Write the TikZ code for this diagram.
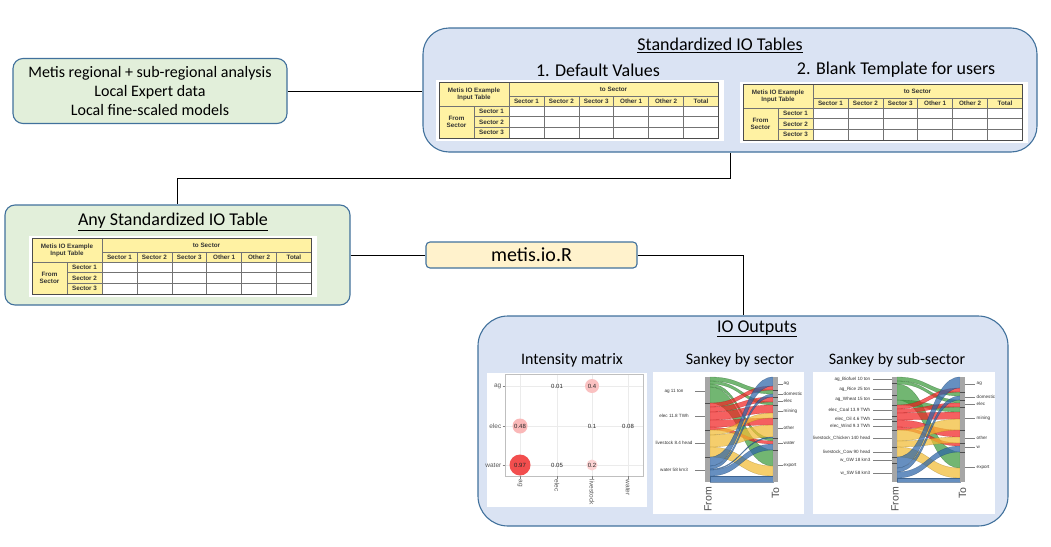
\documentclass[tikz,border=0pt]{standalone}
\usepackage{fontspec}
\setmainfont{Carlito}
\newfontfamily\plotfont{Liberation Sans}
\definecolor{boxgreen}{HTML}{E2EFDA}
\definecolor{boxblue}{HTML}{DAE3F3}
\definecolor{boxline}{HTML}{41719C}
\definecolor{boxyellow}{HTML}{FFF2CC}
\definecolor{tabyellow}{HTML}{FFF2A3}
\definecolor{sgreen}{HTML}{3C9A3C}
\definecolor{sred}{HTML}{F22424}
\definecolor{syellow}{HTML}{F2BC34}
\definecolor{sblue}{HTML}{2C65A8}
\definecolor{dotred}{HTML}{F24E4E}

% one input table, top left corner at #1,#2, names prefixed with #3
\newcommand\iotable[3]{%
\begin{scope}[shift={(#1,#2)}]
	\fill[white] (-3,-2) rectangle (285,59);
	\fill[tabyellow] (0,0) rectangle (279,24);
	\fill[tabyellow] (0,24) rectangle (70,56);
	\draw[tabrule] (70,14) -- (279,14) (0,24) -- (279,24)
		(35,34.7) -- (279,34.7) (35,45.3) -- (279,45.3) (35,24) -- (35,56);
	\foreach \c in {70,104.9,139.8,174.6,209.5,244.4}
		\draw[tabrule] (\c,14) -- (\c,56);
	\draw[tabrule] (70,0) -- (70,14);
	\draw[tabframe] (0,0) rectangle (279,56);
	\node[tabtext, align=center] (#3-corner) at (35,12) {Metis IO Example\\Input Table};
	\node[tabtext] (#3-to) at (174.5,7) {to Sector};
	\node[tabtext, align=center] (#3-from) at (17.5,40) {From\\Sector};
	\foreach \n [count=\i] in {Sector 1,Sector 2,Sector 3,Other 1,Other 2,Total}
		\node[tabtext] (#3-col\i) at ({70+34.9*(\i-0.5)},19) {\n};
	\foreach \i in {1,2,3}
		\node[tabtext] (#3-row\i) at (52.5,{24+10.67*(\i-0.5)}) {Sector \i};
\end{scope}}

% one sankey band between \xL and \xR
\newcommand\sflow[5]{%
	\filldraw[fill=#1, draw=#1!60!black, fill opacity=.72, draw opacity=.5, line width=.3pt]
		(\xL,#2) .. controls ({(\xL+\xR)/2},#2) and ({(\xL+\xR)/2},#4) .. (\xR,#4)
		-- (\xR,#5) .. controls ({(\xL+\xR)/2},#5) and ({(\xL+\xR)/2},#3) .. (\xL,#3) -- cycle;}

\begin{document}
\begin{tikzpicture}[x=1pt,y=-1pt,
				greenbox/.style={draw=boxline, line width=1.1pt, fill=boxgreen, rounded corners=10pt},
				bluebox/.style={draw=boxline, line width=1.1pt, fill=boxblue, rounded corners=26pt},
				yellowbox/.style={draw=boxline, line width=1.1pt, fill=boxyellow, rounded corners=4pt,
					font=\fontsize{20}{22}\selectfont},
				boxtitle/.style={font=\fontsize{18}{20}\selectfont, inner sep=0pt},
				plottitle/.style={font=\fontsize{16}{18}\selectfont, inner sep=0pt},
				link/.style={draw=black, line width=1pt},
				tabrule/.style={draw=black!55, line width=.5pt},
				tabframe/.style={draw=black!70, line width=.8pt},
				tabtext/.style={font=\plotfont\bfseries\fontsize{6.3}{6.8}\selectfont, text=black!80, inner sep=0pt},
				plotlab/.style={font=\plotfont\fontsize{6.5}{7}\selectfont, text=black!65, inner sep=.5pt},
				sklab/.style={font=\plotfont\fontsize{4.6}{5}\selectfont, text=black!80, inner sep=.5pt},
				skaxis/.style={font=\plotfont\fontsize{10.5}{11}\selectfont, text=black!70, inner sep=0pt, rotate=90, anchor=east},
				skbar/.style={fill=black!35},
				sktick/.style={draw=black!50, line width=.4pt},
				gridline/.style={draw=black!8, line width=.5pt}]
\useasboundingbox (0,0) rectangle (1051,546);

% boxes
\node[greenbox, minimum width=274pt, minimum height=65pt, align=center,
	font=\fontsize{16}{19}\selectfont] (local) at (150,91)
	{Metis regional + sub-regional analysis\\Local Expert data\\Local fine-scaled models};
\node[bluebox, minimum width=614pt, minimum height=124pt] (stdbox) at (730,90) {};
\node[greenbox, minimum width=345pt, minimum height=100pt] (anybox) at (177.5,255) {};
\node[yellowbox, minimum width=211pt, minimum height=26pt] (metis) at (531.5,255) {metis.io.R};
\node[bluebox, minimum width=530pt, minimum height=210pt, rounded corners=30pt] (outbox) at (743,421) {};

% connectors
\draw[link] (local.east) -- (local.east -| stdbox.west);
\draw[link] (stdbox.south) -- ++(0,26) -| (anybox.north);
\draw[link] (anybox.east) -- (metis.west);
\draw[link] (metis.east) -| (outbox.north);

% standardized tables
\node[boxtitle] (stdtitle) at (720,45) {\underline{Standardized IO Tables}};
\node[boxtitle] (defval) at (598,70) {1. Default Values};
\node[boxtitle] (blank) at (896,70) {2. Blank Template for users};
\iotable{439}{82}{dv}
\iotable{743}{84}{bt}
\node[boxtitle] (anytitle) at (173,222) {\underline{Any Standardized IO Table}};
\iotable{32}{238}{any}

% outputs
\node[boxtitle] (outtitle) at (757,329) {\underline{IO Outputs}};
\node[plottitle] (imtitle) at (572,360) {Intensity matrix};
\node[plottitle] (sstitle) at (740,360) {Sankey by sector};
\node[plottitle] (subtitle) at (897,360) {Sankey by sub-sector};

% intensity matrix
\fill[white] (487,373) rectangle (647,507);
\foreach \x in {520,557,592,628} \draw[gridline] (\x,374) -- (\x,476);
\foreach \y in {386,426,465} \draw[gridline] (505,\y) -- (643,\y);
\draw[black!25, line width=.6pt] (505,374) rectangle (643,476);
\fill[dotred!40] (520,426) circle (7.5pt);
\fill[dotred] (520,465) circle (10.5pt);
\fill[dotred!35] (592,386) circle (7pt);
\fill[dotred!25] (592,465) circle (5.5pt);
\foreach \t/\x/\y [count=\i] in {0.48/520/426,0.97/520/465,0.4/592/386,0.2/592/465,
		0.01/557/386,0.1/592/426,0.08/628/426,0.05/557/465}
	\node[plotlab, text=black!85, font=\plotfont\fontsize{6}{7}\selectfont] (im-v\i) at (\x,\y) {\t};
\foreach \t/\y [count=\i] in {ag/386,elec/426,water/465} {
	\node[plotlab, anchor=east] (im-r\i) at (502,\y) {\t};
	\draw[sktick] (502.5,\y) -- (505,\y);
}
\foreach \t/\x [count=\i] in {ag/520,elec/557,livestock/592,water/628} {
	\node[plotlab, rotate=-90, anchor=west] (im-c\i) at (\x,479) {\t};
	\draw[sktick] (\x,476) -- (\x,478.5);
}

% sankey by sector
\fill[white] (653,372) rectangle (804,514);
\def\xL{710}\def\xR{773}
\sflow{sgreen}{377}{381}{390}{394}
\sflow{sgreen}{381}{384}{402}{405}
\sflow{sgreen}{384}{387}{438}{441}
\sflow{sgreen}{387}{403}{450}{466}
\sflow{sred}{403}{407}{386}{390}
\sflow{sred}{407}{412}{397}{402}
\sflow{sred}{412}{420}{405}{413}
\sflow{sred}{420}{427}{418}{425}
\sflow{sred}{427}{430}{441}{444}
\sflow{syellow}{430}{435}{413}{418}
\sflow{syellow}{435}{447}{425}{437}
\sflow{syellow}{447}{457}{466}{476}
\sflow{sblue}{457}{466}{377}{386}
\sflow{sblue}{466}{469}{394}{397}
\sflow{sblue}{469}{470}{437}{438}
\sflow{sblue}{470}{476}{444}{450}
\sflow{sblue}{476}{482}{476}{482}
\fill[skbar] (705,377) rectangle (710,482);
\fill[skbar] (773,377) rectangle (778,482);
\foreach \y in {403,430,457} \draw[black!70, line width=.4pt] (705,\y) -- (710,\y);
\foreach \y in {390,397,405,418,438,450} \draw[black!70, line width=.4pt] (773,\y) -- (778,\y);
\foreach \t/\y [count=\i] in {ag 11 ton/391,elec 11.8 TWh/416,livestock 8.4 head/443,water 58 km3/470} {
	\node[sklab] (ss-l\i) at (674,\y) {\t};
	\draw[sktick] (695,\y) -- (705,\y);
}
\foreach \t/\y [count=\i] in {ag/384,domestic/394,elec/401,mining/411,other/428,water/443,export/465} {
	\node[sklab, anchor=west] (ss-r\i) at (783,\y) {\t};
	\draw[sktick] (778,\y) -- (783,\y);
}
\node[skaxis] (ss-from) at (708,487) {From};
\node[skaxis] (ss-to) at (775.5,487) {To};

% sankey by sub-sector
\fill[white] (813,372) rectangle (995,514);
\def\xL{897}\def\xR{960}
\sflow{sgreen}{377}{381}{392}{396}
\sflow{sgreen}{381}{384}{400}{403}
\sflow{sgreen}{384}{400}{452}{468}
\sflow{sgreen}{400}{405}{407}{412}
\sflow{sred}{405}{409}{388}{392}
\sflow{sred}{409}{413}{403}{407}
\sflow{sred}{413}{420}{412}{419}
\sflow{sred}{420}{427}{430}{437}
\sflow{sred}{427}{430}{443}{446}
\sflow{syellow}{430}{441}{419}{430}
\sflow{syellow}{441}{447}{437}{443}
\sflow{syellow}{447}{457}{468}{478}
\sflow{sblue}{457}{468}{377}{388}
\sflow{sblue}{468}{472}{396}{400}
\sflow{sblue}{472}{478}{446}{452}
\sflow{sblue}{478}{482}{478}{482}
\fill[skbar] (892,377) rectangle (897,482);
\fill[skbar] (960,377) rectangle (965,482);
\foreach \y in {383,395,405,416,421,430,447,457,463} \draw[black!70, line width=.4pt] (892,\y) -- (897,\y);
\foreach \y in {392,400,407,430,443,452} \draw[black!70, line width=.4pt] (960,\y) -- (965,\y);
\foreach \t/\y [count=\i] in {ag\_Biofuel 10 ton/379,ag\_Rice 25 ton/389,ag\_Wheat 15 ton/399,
		elec\_Coal 13.9 TWh/410,elec\_Oil 4.6 TWh/419,elec\_Wind 9.3 TWh/426,
		livestock\_Chicken 140 head/438,livestock\_Cow 90 head/452,w\_GW 18 km3/460,w\_SW 58 km3/473} {
	\node[sklab, anchor=east] (sub-l\i) at (871,\y) {\t};
	\draw[sktick] (873,\y) -- (892,\y);
}
\foreach \t/\y [count=\i] in {ag/384,domestic/397,elec/404,mining/418,other/438,w/447,export/467} {
	\node[sklab, anchor=west] (sub-r\i) at (976,\y) {\t};
	\draw[sktick] (965,\y) -- (975,\y);
}
\node[skaxis] (sub-from) at (895,487) {From};
\node[skaxis] (sub-to) at (962.5,487) {To};
\end{tikzpicture}
\end{document}
